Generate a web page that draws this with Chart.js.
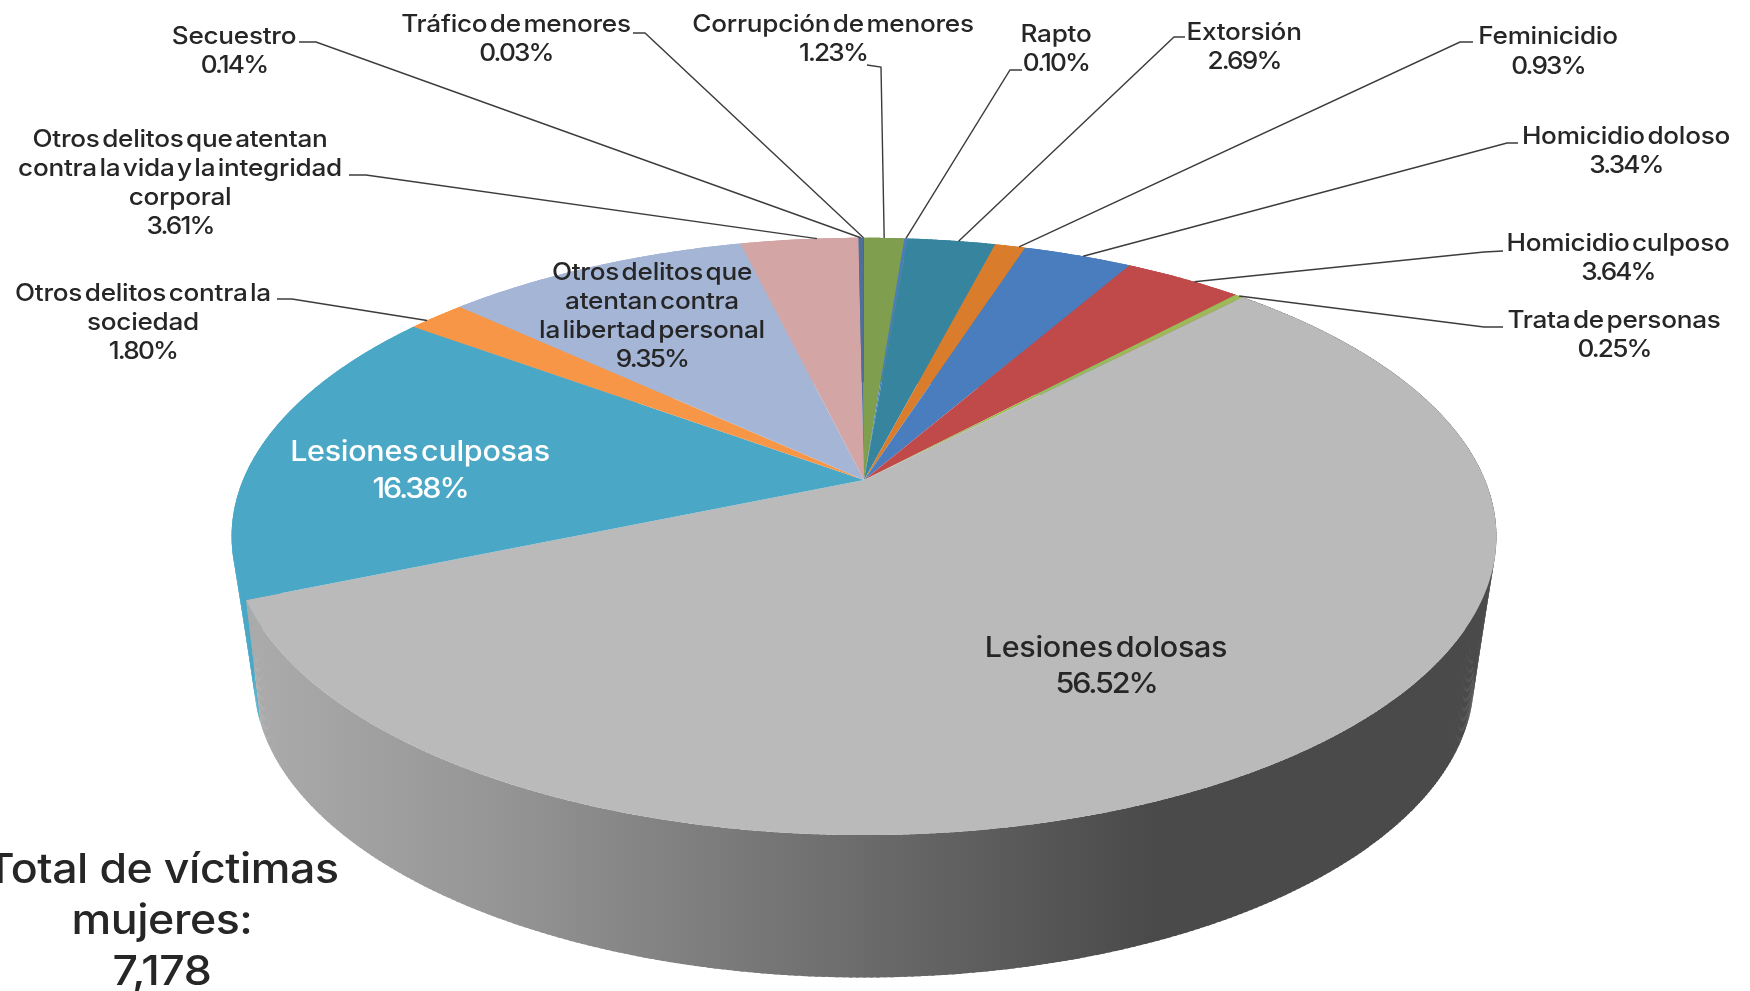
<!DOCTYPE html>
<html lang="es">
<head>
<meta charset="utf-8">
<title>Total de víctimas mujeres</title>
<script src="https://cdn.jsdelivr.net/npm/chart.js@4/dist/chart.umd.min.js"></script>
<style>
  html, body { margin: 0; padding: 0; background: #fff; overflow: hidden; }
  canvas { display: block; filter: blur(0.5px); }
</style>
</head>
<body>
<canvas id="chart" width="1750" height="991"></canvas>
<script>
// Clockwise from 12 o'clock
const categories = [
    'Corrupción de menores', 'Rapto', 'Extorsión', 'Feminicidio', 'Homicidio doloso',
    'Homicidio culposo', 'Trata de personas', 'Lesiones dolosas', 'Lesiones culposas',
    'Otros delitos contra la sociedad', 'Otros delitos que atentan contra la libertad personal',
    'Otros delitos que atentan contra la vida y la integridad corporal', 'Secuestro', 'Tráfico de menores'
];
const values = [1.23, 0.10, 2.69, 0.93, 3.34, 3.64, 0.25, 56.52, 16.38, 1.80, 9.35, 3.61, 0.14, 0.03];
const sliceColors = [
    '#7f9f4f', '#4a7ebb', '#37849f', '#d97c2b', '#4a7dbd', '#c0494a', '#9bbb59',
    '#bababa', '#4aa8c6', '#f79646', '#a5b5d6', '#d4a5a5', '#4f6f9a', '#6a5a8b'
];
const totalLines = ['Total de víctimas', 'mujeres:', '7,178'];

// label text lines, one entry per slice
const labelLines = [
    ['Corrupción de menores'], ['Rapto'], ['Extorsión'], ['Feminicidio'], ['Homicidio doloso'],
    ['Homicidio culposo'], ['Trata de personas'], ['Lesiones dolosas'], ['Lesiones culposas'],
    ['Otros delitos contra la', 'sociedad'], ['Otros delitos que', 'atentan contra', 'la libertad personal'],
    ['Otros delitos que atentan', 'contra la vida y la integridad', 'corporal'], ['Secuestro'], ['Tráfico de menores']
];
// centre x, first line y, line pitch, optional font px / colour, leader stub and where on the slice's rim it lands
const labelLayout = [
    { x: 833, y: 25, pitch: 29, leader: [[867, 65], [881, 67]] },
    { x: 1056, y: 35, pitch: 29, leader: [[1022, 70], [1010, 70]] },
    { x: 1244, y: 33, pitch: 29, leader: [[1185, 37], [1174, 37]], at: 0.58 },
    { x: 1548, y: 37, pitch: 30, leader: [[1473, 42], [1460, 42]], at: 0.8 },
    { x: 1626, y: 137, pitch: 29, leader: [[1518, 143], [1507, 143]], at: 0.55 },
    { x: 1618, y: 244, pitch: 29, leader: [[1503, 251], [1484, 252]], at: 0.6 },
    { x: 1614, y: 321, pitch: 29, leader: [[1503, 327], [1484, 327]] },
    { x: 1106, y: 649, pitch: 36, size: 28 },
    { x: 420, y: 453, pitch: 37, size: 28, color: '#ffffff' },
    { x: 143, y: 294, pitch: 29, leader: [[277, 299], [292, 299]], at: 0.3 },
    { x: 652, y: 273, pitch: 29 },
    { x: 180, y: 140, pitch: 29, leader: [[349, 175], [366, 175]], at: 0.65 },
    { x: 234, y: 37, pitch: 29, leader: [[299, 42], [316, 42]] },
    { x: 516, y: 25, pitch: 29, leader: [[633, 33], [645, 33]] }
];

// perspective of the pie's top and bottom discs
const topDisc = { cx: 864, cy: 480, a: 621, b: 288, k: 0.189 };
const bottomDisc = { cx: 864, cy: 605.5, a: 590.6, b: 279, k: 0.25 };

function project(disc, angle, r = 1) {
    const u = Math.cos(angle) * r, v = Math.sin(angle) * r;
    const w = 1 - disc.k * v;
    return { x: disc.cx + disc.a * u / w, y: disc.cy + disc.b * v / w };
}

const STEP = Math.PI / 360;

class Arc3D extends Chart.ArcElement {
    static id = 'arc3d';

    drawWall(ctx, fill) {
        const { startAngle, endAngle } = this.getProps(['startAngle', 'endAngle'], true);
        ctx.fillStyle = fill;
        for (let t = startAngle; t < endAngle; t += STEP) {
            const t2 = Math.min(t + STEP * 1.5, endAngle);
            const p1 = project(topDisc, t), p2 = project(topDisc, t2);
            const q1 = project(bottomDisc, t), q2 = project(bottomDisc, t2);
            ctx.beginPath();
            ctx.moveTo(p1.x, p1.y);
            ctx.lineTo(p2.x, p2.y);
            ctx.lineTo(q2.x, q2.y);
            ctx.lineTo(q1.x, q1.y);
            ctx.closePath();
            ctx.fill();
        }
    }

    draw(ctx) {
        const { startAngle, endAngle } = this.getProps(['startAngle', 'endAngle'], true);
        ctx.fillStyle = this.options.backgroundColor;
        ctx.beginPath();
        ctx.moveTo(topDisc.cx, topDisc.cy);
        for (let t = startAngle; t < endAngle; t += STEP) {
            const p = project(topDisc, t);
            ctx.lineTo(p.x, p.y);
        }
        const end = project(topDisc, endAngle);
        ctx.lineTo(end.x, end.y);
        ctx.closePath();
        ctx.fill();
    }
}

class Pie3DController extends Chart.PieController {
    static id = 'pie3d';
    static defaults = { ...Chart.PieController.defaults, dataElementType: 'arc3d' };
    static overrides = Chart.PieController.overrides;

    draw() {
        const ctx = this.chart.ctx;
        const arcs = this._cachedMeta.data;
        // grey wall gets the light to dark shading, the others keep their own colour
        const shade = ctx.createLinearGradient(250, 0, 1500, 0);
        shade.addColorStop(0, '#ababab');
        shade.addColorStop(0.2, '#959595');
        shade.addColorStop(0.72, '#4a4a4a');
        shade.addColorStop(1, '#4a4a4a');
        // walls back to front, so the nearest one ends up on top
        const depth = i => Math.sin((arcs[i].startAngle + arcs[i].endAngle) / 2);
        arcs.map((arc, i) => i)
            .sort((a, b) => depth(a) - depth(b))
            .forEach(i => arcs[i].drawWall(ctx, i === 7 ? shade : sliceColors[i]));
        arcs.forEach(arc => arc.draw(ctx));
    }
}

Chart.register(Arc3D, Pie3DController);

// Inter stretched a little to get close to the wide geometric face of the original
const STRETCH = 1.09;

function setFont(ctx, size, tracking = -0.01, tightWords = true) {
    ctx.font = '500 ' + size + 'px Inter, sans-serif';
    ctx.letterSpacing = (size * tracking) + 'px';
    ctx.wordSpacing = tightWords ? (-size * 0.16) + 'px' : '0px';
}

function stretchedText(ctx, text, x, y) {
    ctx.save();
    ctx.translate(x, y);
    ctx.scale(STRETCH, 1);
    ctx.fillText(text, 0, 0);
    ctx.restore();
}

const labelsPlugin = {
    id: 'labels3d',
    afterDatasetsDraw(chart) {
        const ctx = chart.ctx;
        const arcs = chart.getDatasetMeta(0).data;
        ctx.save();

        // leader lines, last point sits on the slice's rim
        ctx.strokeStyle = '#3c3c3c';
        ctx.lineWidth = 1.4;
        labelLayout.forEach((item, i) => {
            if (!item.leader) return;
            const at = item.at === undefined ? 0.5 : item.at;
            const rim = project(topDisc, arcs[i].startAngle + (arcs[i].endAngle - arcs[i].startAngle) * at);
            ctx.beginPath();
            item.leader.forEach((p, n) => n ? ctx.lineTo(p[0], p[1]) : ctx.moveTo(p[0], p[1]));
            ctx.lineTo(rim.x, rim.y);
            ctx.stroke();
        });

        ctx.textAlign = 'center';
        ctx.textBaseline = 'middle';
        labelLayout.forEach((item, i) => {
            const size = item.size || 24;
            const count = labelLines[i].length;
            ctx.fillStyle = item.color || '#262626';
            setFont(ctx, size);
            labelLines[i].forEach((line, n) => stretchedText(ctx, line, item.x, item.y + n * item.pitch));
            // the digits sit tighter than the words
            setFont(ctx, size, -0.07);
            stretchedText(ctx, values[i].toFixed(2) + '%', item.x, item.y + count * item.pitch);
        });

        setFont(ctx, 41, -0.01, false);
        ctx.fillStyle = '#262626';
        totalLines.forEach((line, n) => stretchedText(ctx, line, 162, 871 + n * 51));
        ctx.restore();
    }
};

new Chart(document.getElementById('chart').getContext('2d'), {
    type: 'pie3d',
    data: {
        labels: categories,
        datasets: [{ data: values, backgroundColor: sliceColors, borderWidth: 0 }]
    },
    options: {
        responsive: false,
        animation: false,
        events: [],
        plugins: { legend: { display: false }, tooltip: { enabled: false } }
    },
    plugins: [labelsPlugin]
});
</script>
</body>
</html>
